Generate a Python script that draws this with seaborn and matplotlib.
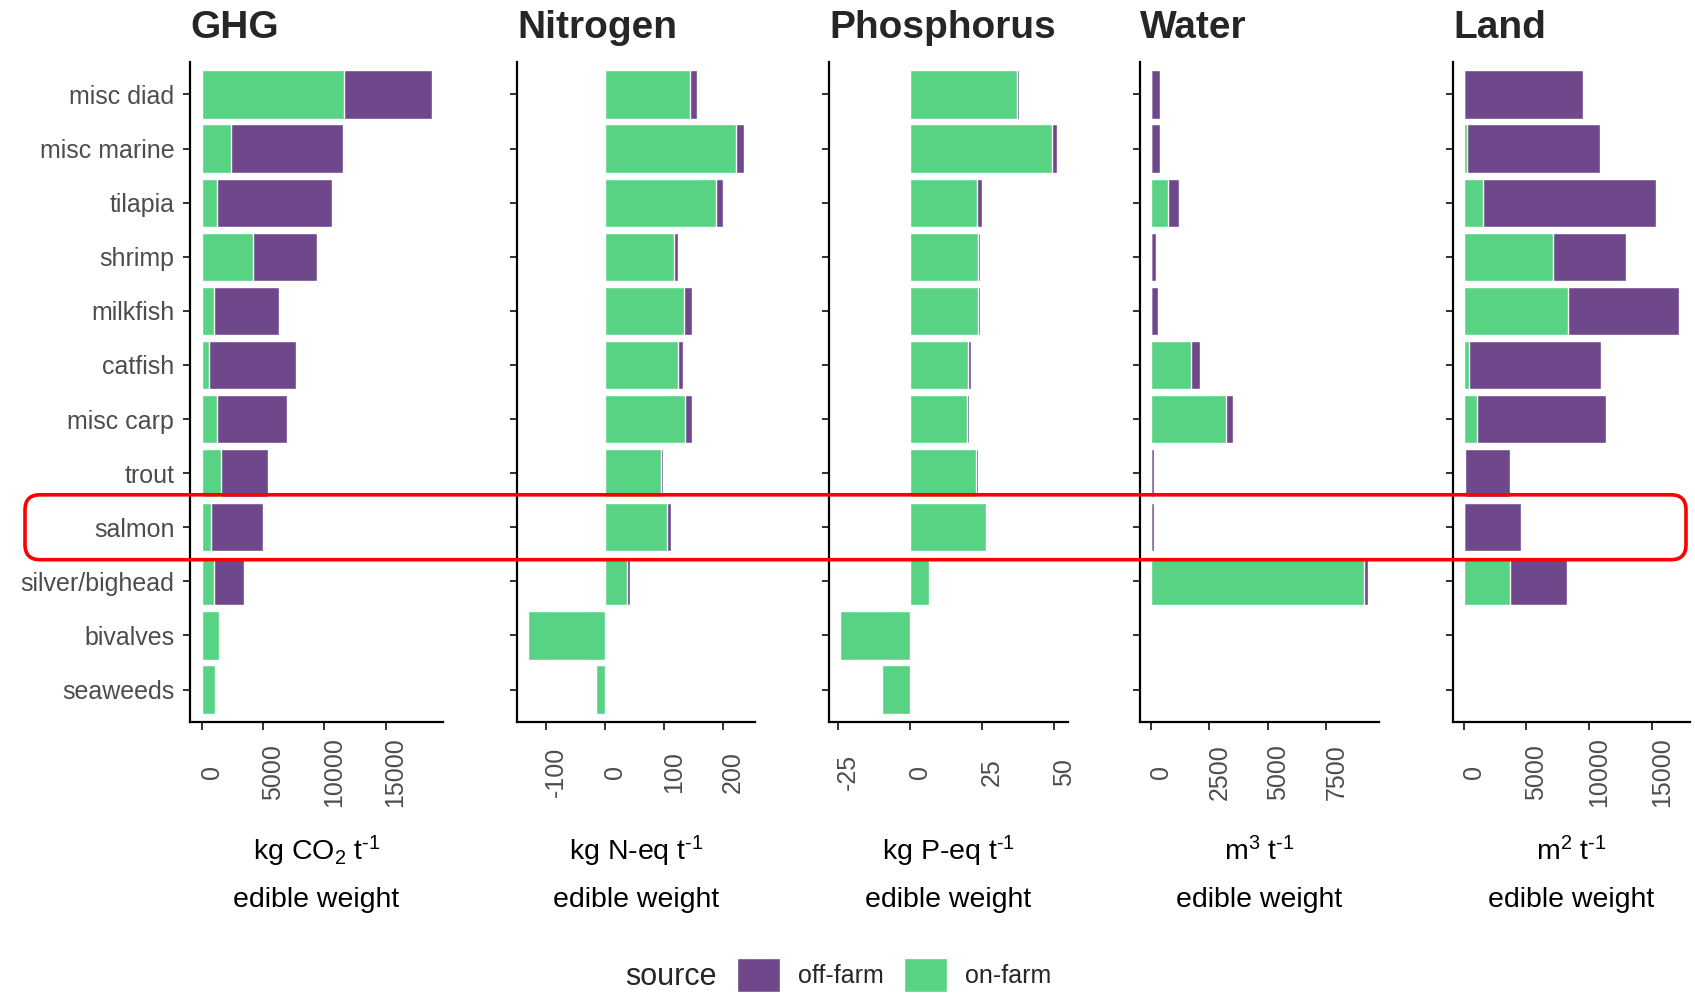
import numpy as np
import pandas as pd
import matplotlib.pyplot as plt
import seaborn as sns
from matplotlib.patches import Patch, FancyBboxPatch
from matplotlib.transforms import ScaledTranslation

# Species, top to bottom
species = ['misc diad', 'misc marine', 'tilapia', 'shrimp', 'milkfish', 'catfish',
           'misc carp', 'trout', 'salmon', 'silver/bighead', 'bivalves', 'seaweeds']

# kg CO2 per t edible weight
ghg_on = [11600, 2400, 1300, 4200, 1050, 650, 1300, 1600, 750, 1050, 1400, 1100]
ghg_off = [7150, 9150, 9300, 5200, 5250, 7050, 5650, 3800, 4300, 2450, 0, 0]

# kg N-eq per t edible weight
nitrogen_on = [144, 223, 188, 118, 135, 124, 136, 96, 105, 37, -130, -15]
nitrogen_off = [12, 13, 12, 6, 12, 9, 12, 3, 7, 6, 0, 0]

# kg P-eq per t edible weight
phosphorus_on = [37.3, 49.5, 23.4, 23.8, 23.5, 20.2, 19.7, 23.1, 26.4, 6.6, -24.4, -9.8]
phosphorus_off = [0.6, 1.5, 1.7, 0.5, 0.7, 0.9, 0.9, 0.7, 0.5, 0.4, 0, 0]

# m3 per t edible weight
water_on = [0, 0, 740, 0, 0, 1730, 3220, 0, 0, 9110, 0, 0]
water_off = [370, 400, 470, 220, 320, 370, 300, 130, 150, 170, 0, 0]

# m2 per t edible weight
land_on = [0, 250, 1500, 7100, 8350, 440, 1040, 130, 0, 3670, 0, 0]
land_off = [9510, 10610, 13850, 5830, 8850, 10480, 10350, 3540, 4580, 4550, 0, 0]

titles = ['GHG', 'Nitrogen', 'Phosphorus', 'Water', 'Land']
per_t = r't$^{\text{-}1}$'
units = [r'kg CO$_2$ ' + per_t, 'kg N-eq ' + per_t, 'kg P-eq ' + per_t,
         r'm$^3$ ' + per_t, r'm$^2$ ' + per_t]
basis = 'edible weight'
ticks = [[0, 5000, 10000, 15000], [-100, 0, 100, 200], [-25, 0, 25, 50],
         [0, 2500, 5000, 7500], [0, 5000, 10000, 15000]]
on_values = [ghg_on, nitrogen_on, phosphorus_on, water_on, land_on]
off_values = [ghg_off, nitrogen_off, phosphorus_off, water_off, land_off]

PURPLE = '#6F488B'
GREEN = '#57D383'
W, H, DPI = 1695, 994, 100

sns.set_style('white')
plt.rcParams['font.family'] = ['Liberation Sans', 'DejaVu Sans']
plt.rcParams['mathtext.fontset'] = 'custom'
plt.rcParams['mathtext.rm'] = 'Liberation Sans'
plt.rcParams['mathtext.it'] = 'Liberation Sans:italic'
plt.rcParams['mathtext.default'] = 'regular'

fig = plt.figure(figsize=(W / DPI, H / DPI), dpi=DPI)

# panel placement in pixels (left, width); shared top/bottom
panels = [(190, 253), (517, 238), (829, 238.5), (1140, 239), (1453, 237)]
top_px, bottom_px = 62, 722

axes = []
for i, (left, width) in enumerate(panels):
    ax = fig.add_axes([left / W, 1 - bottom_px / H, width / W, (bottom_px - top_px) / H])
    axes.append(ax)

    df = pd.DataFrame({'species': species, 'on': on_values[i], 'off': off_values[i]})
    df['total'] = df['on'] + df['off']

    # stacked bars: total in purple, on-farm part drawn over it in green
    sns.barplot(data=df, x='total', y='species', order=species, color=PURPLE,
                saturation=1, width=0.89, errorbar=None, orient='h', ax=ax)
    sns.barplot(data=df, x='on', y='species', order=species, color=GREEN,
                saturation=1, width=0.89, errorbar=None, orient='h', ax=ax)

    lo = min(0, df['total'].min())
    hi = df['total'].max()
    span = hi - lo
    ax.set_xlim(lo - 0.05 * span, hi + 0.05 * span)
    ax.set_ylim(len(species) - 0.4, -0.6)

    ax.set_xticks(ticks[i])
    ax.set_xticklabels([str(t) for t in ticks[i]])
    ax.set_title(titles[i], loc='left', fontsize=28, fontweight='bold', pad=17)
    ax.set_ylabel('')

    # two-line axis title: unit, then basis
    ax.set_xlabel(units[i], fontsize=20.5, color='black', va='baseline')
    ax.xaxis.set_label_coords(0.5, -0.209)
    ax.text(0.5, -0.280, basis, transform=ax.transAxes, fontsize=20.5,
            ha='center', va='baseline', color='black')

    for side in ['top', 'right']:
        ax.spines[side].set_visible(False)
    for side in ['left', 'bottom']:
        ax.spines[side].set_color('black')
        ax.spines[side].set_linewidth(1.6)

    ax.tick_params(axis='y', length=5.3, width=1.4, color='#333333', pad=6,
                   labelsize=18, labelcolor='#4D4D4D', left=True)
    ax.tick_params(axis='x', length=5.5, width=1.4, color='#333333', pad=30.5,
                   labelsize=18, labelcolor='#4D4D4D', labelrotation=90, bottom=True)
    for lbl in ax.get_xticklabels():
        lbl.set_va('center')
        lbl.set_ha('center')
        lbl.set_transform(lbl.get_transform() + ScaledTranslation(10 / DPI, 0, fig.dpi_scale_trans))
    if i > 0:
        ax.tick_params(axis='y', labelleft=False)

# legend along the bottom
fig.text(625 / W, 1 - 977 / H, 'source', fontsize=22, va='center', ha='left')
handles = [Patch(facecolor=PURPLE), Patch(facecolor=GREEN)]
fig.legend(handles, ['off-farm', 'on-farm'], ncol=2, loc='center left',
           bbox_to_anchor=(737 / W, 1 - 975 / H), frameon=False, fontsize=18,
           handlelength=1.72, handleheight=1.75, handletextpad=0.72,
           columnspacing=0.8, borderpad=0, borderaxespad=0)

# red highlight around the salmon row
ax0 = axes[0]
row = species.index('salmon')
to_inch = fig.dpi_scale_trans.inverted()
_, y_top = to_inch.transform(ax0.transData.transform((0, row - 0.6)))
_, y_bot = to_inch.transform(ax0.transData.transform((0, row + 0.6)))
x0, x1 = 25 / DPI, 1686 / DPI
box = FancyBboxPatch((x0, y_bot), x1 - x0, y_top - y_bot,
                     boxstyle='round,pad=0,rounding_size=0.15',
                     transform=fig.dpi_scale_trans, fill=False,
                     edgecolor='#FF0000', linewidth=2.6, zorder=10)
fig.patches.append(box)

fig.savefig('out.png', dpi=DPI)
